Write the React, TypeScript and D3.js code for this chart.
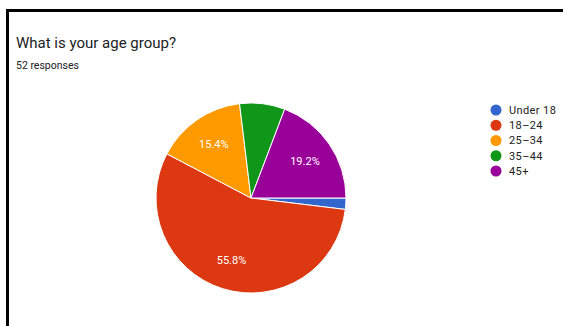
import React from "react";
import * as d3 from "d3";

const categories = ["Under 18", "18–24", "25–34", "35–44", "45+"];
const counts = [1, 29, 8, 4, 10];
const colors = ["#3366cc", "#dc3912", "#ff9900", "#109618", "#990099"];
const title = "What is your age group?";
const subtitle = "52 responses";

export default function App() {
  const W = 563, H = 326;
  const cx = 251, cy = 198, r = 95;
  const total = d3.sum(counts);
  const pie = d3.pie<number>().sort(null).startAngle(Math.PI / 2).endAngle(Math.PI / 2 + 2 * Math.PI);
  const arcs = pie(counts);
  const arc = d3.arc<d3.PieArcDatum<number>>().innerRadius(0).outerRadius(r);
  const labelArc = d3.arc<d3.PieArcDatum<number>>().innerRadius(r * 0.69).outerRadius(r * 0.69);
  const legendY = d3.scalePoint<number>().domain(d3.range(categories.length)).range([110, 171]);
  const font = "Roboto, Arial, sans-serif";
  return (
    <svg width={W} height={H} style={{ position: "fixed", left: 0, top: 0, background: "#fff" }}>
      <rect x={0} y={0} width={W} height={H} fill="#fff" />
      <line x1={6} y1={10.5} x2={W} y2={10.5} stroke="#000" strokeWidth={3} />
      <line x1={7.5} y1={9} x2={7.5} y2={H} stroke="#000" strokeWidth={3} />
      <text x={16} y={48} fontFamily={font} fontSize={15} fill="#202124">{title}</text>
      <text x={16} y={69} fontFamily={font} fontSize={10.5} fill="#202124">{subtitle}</text>
      <g transform={`translate(${cx},${cy})`}>
        {arcs.map((a, i) => (
          <path key={i} d={arc(a) || ""} fill={colors[i]} stroke="#fff" strokeWidth={1} />
        ))}
        {arcs.map((a, i) => {
          const p = a.value / total;
          if (p < 0.1) return null;
          const [x, y] = labelArc.centroid(a);
          return (
            <text key={"l" + i} x={x} y={y} dy="0.35em" textAnchor="middle" fontFamily={font} fontSize={11} fill="#fff">
              {(p * 100).toFixed(1) + "%"}
            </text>
          );
        })}
      </g>
      {categories.map((c, i) => (
        <g key={c} transform={`translate(0,${legendY(i)})`}>
          <circle cx={496} cy={0} r={5.5} fill={colors[i]} />
          <text x={509} y={0} dy="0.35em" fontFamily={font} fontSize={11} fill="#222" letterSpacing={0.4}>{c}</text>
        </g>
      ))}
    </svg>
  );
}
